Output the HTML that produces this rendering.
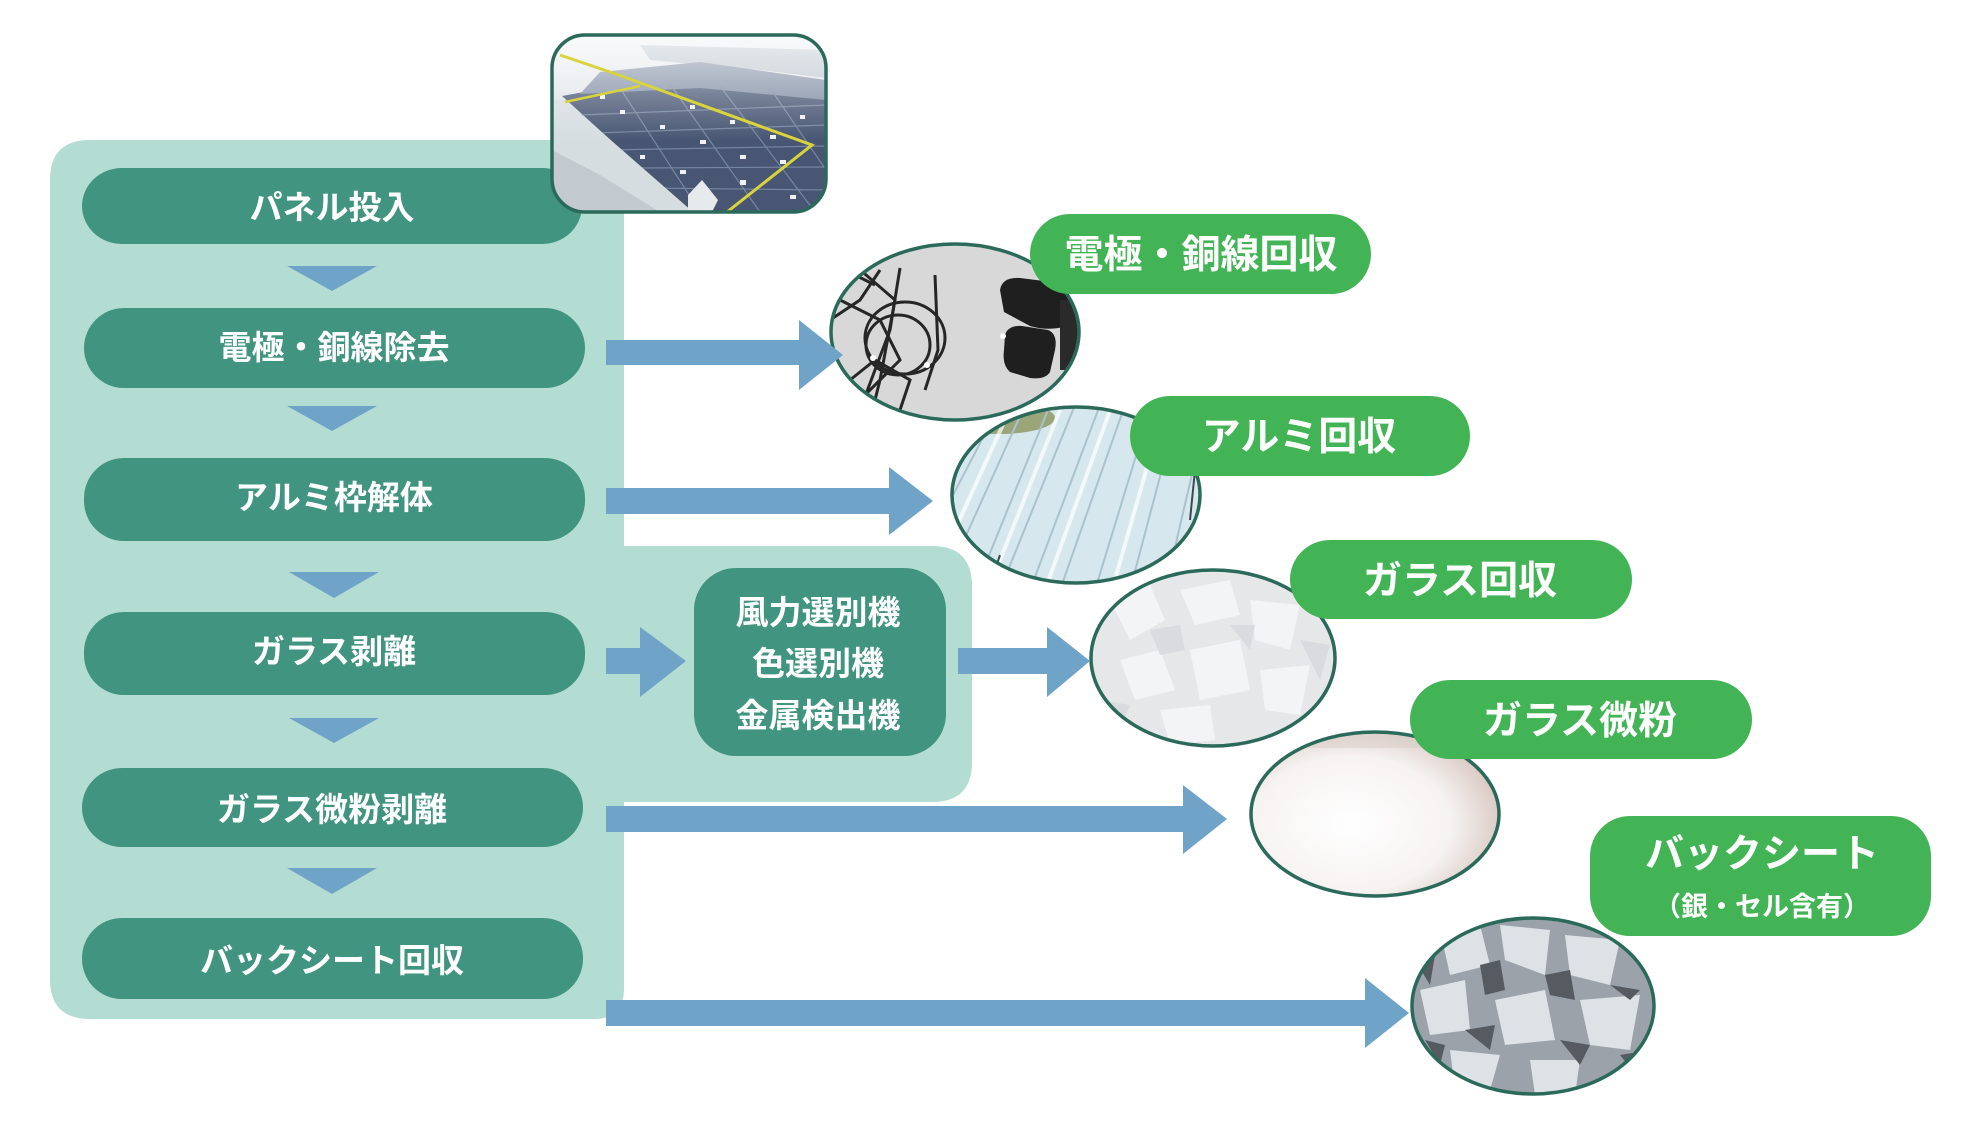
<!DOCTYPE html>
<html><head><meta charset="utf-8"><style>
html,body{margin:0;padding:0;background:#fff;}
svg{display:block;}
text{font-family:"Liberation Sans","Noto Sans CJK JP",sans-serif;font-weight:700;fill:#fff;}
</style></head><body>
<svg width="1974" height="1134" viewBox="0 0 1974 1134" xmlns="http://www.w3.org/2000/svg">
<defs>
<clipPath id="cSolar"><rect x="552" y="35" width="274" height="177" rx="33"/></clipPath>
<clipPath id="c1"><ellipse cx="955" cy="332" rx="124" ry="88"/></clipPath>
<clipPath id="c2"><ellipse cx="1076" cy="495" rx="124" ry="88"/></clipPath>
<clipPath id="c3"><ellipse cx="1213" cy="658" rx="122" ry="88"/></clipPath>
<clipPath id="c4"><ellipse cx="1375" cy="814" rx="124" ry="82"/></clipPath>
<clipPath id="c5"><ellipse cx="1533" cy="1006" rx="121" ry="88"/></clipPath>
<radialGradient id="gPowder" cx="0.4" cy="0.55" r="0.68">
<stop offset="0" stop-color="#ffffff"/><stop offset="0.55" stop-color="#f6f3f2"/><stop offset="0.82" stop-color="#dccdc7"/><stop offset="1" stop-color="#8d6251"/>
</radialGradient>
<linearGradient id="gSolarTop" x1="0" y1="0" x2="0" y2="1">
<stop offset="0" stop-color="#e9edf0"/><stop offset="1" stop-color="#cfd6dc"/>
</linearGradient>
<linearGradient id="gHaze" x1="0" y1="0" x2="0" y2="1">
<stop offset="0" stop-color="#ffffff" stop-opacity="0.7"/><stop offset="0.35" stop-color="#ffffff" stop-opacity="0.25"/><stop offset="0.6" stop-color="#ffffff" stop-opacity="0"/>
</linearGradient>
</defs>

<!-- light panel -->
<path d="M90,140 H624 V546 H932 Q972,546 972,586 V762 Q972,802 932,802 H624 V989 Q624,1019 594,1019 H90 Q50,1019 50,979 V180 Q50,140 90,140 Z" fill="#b3ddd3"/>

<!-- step pills -->
<rect x="82" y="168" width="500" height="76" rx="40" fill="#41947f"/>
<rect x="84" y="308" width="501" height="80" rx="40" fill="#41947f"/>
<rect x="84" y="458" width="501" height="83" rx="40" fill="#41947f"/>
<rect x="84" y="612" width="501" height="83" rx="40" fill="#41947f"/>
<rect x="82" y="768" width="501" height="79" rx="40" fill="#41947f"/>
<rect x="82" y="918" width="501" height="81" rx="40" fill="#41947f"/>

<text x="332" y="219" font-size="33" text-anchor="middle">パネル投入</text>
<text x="334" y="359" font-size="33" text-anchor="middle">電極・銅線除去</text>
<text x="334" y="509" font-size="33" text-anchor="middle">アルミ枠解体</text>
<text x="334" y="663" font-size="33" text-anchor="middle">ガラス剥離</text>
<text x="332" y="821" font-size="33" text-anchor="middle">ガラス微粉剥離</text>
<text x="332" y="972" font-size="33" text-anchor="middle">バックシート回収</text>

<!-- down triangles -->
<g fill="#6fa3c8">
<polygon points="287,266 377,266 332,291"/>
<polygon points="287,406 377,406 332,431"/>
<polygon points="289,572 379,572 334,598"/>
<polygon points="289,718 379,718 334,743"/>
<polygon points="287,868 377,868 332,894"/>
</g>

<!-- sorting box -->
<rect x="694" y="568" width="252" height="188" rx="42" fill="#41947f"/>
<text x="818" y="624" font-size="33" text-anchor="middle">風力選別機</text>
<text x="818" y="675" font-size="33" text-anchor="middle">色選別機</text>
<text x="818" y="727" font-size="33" text-anchor="middle">金属検出機</text>

<!-- solar photo -->
<g clip-path="url(#cSolar)">
<rect x="552" y="35" width="274" height="177" fill="url(#gSolarTop)"/>
<polygon points="640,45 826,50 826,78 760,70 650,60" fill="#b9c3cc"/>
<polygon points="562,96 650,80 826,88 826,212 690,212" fill="#485673"/>
<polygon points="600,72 700,62 826,80 826,100 700,88 580,94" fill="#7f8ca3"/>
<g stroke="#7586a0" stroke-width="1.2" fill="none">
<line x1="580" y1="115" x2="826" y2="105"/>
<line x1="595" y1="133" x2="826" y2="125"/>
<line x1="610" y1="150" x2="826" y2="146"/>
<line x1="628" y1="168" x2="826" y2="167"/>
<line x1="648" y1="188" x2="826" y2="190"/>
<line x1="620" y1="88" x2="700" y2="212"/>
<line x1="670" y1="84" x2="760" y2="212"/>
<line x1="720" y1="86" x2="815" y2="212"/>
<line x1="770" y1="88" x2="826" y2="170"/>
</g>
<g fill="#eef1f5">
<rect x="620" y="110" width="5" height="4"/><rect x="660" y="125" width="5" height="4"/><rect x="700" y="140" width="6" height="4"/>
<rect x="740" y="155" width="6" height="4"/><rect x="690" y="105" width="5" height="4"/><rect x="730" y="120" width="5" height="4"/>
<rect x="770" y="135" width="6" height="4"/><rect x="740" y="180" width="6" height="5"/><rect x="780" y="160" width="6" height="4"/>
<rect x="640" y="155" width="5" height="4"/><rect x="680" y="170" width="6" height="4"/><rect x="800" y="115" width="5" height="4"/>
<rect x="600" y="95" width="5" height="4"/><rect x="790" y="195" width="6" height="4"/>
</g>
<polygon points="552,100 565,100 693,212 552,212" fill="#d6dde1"/>
<polygon points="552,150 600,175 660,212 552,212" fill="#c2cacf"/>
<rect x="552" y="35" width="274" height="177" fill="url(#gHaze)"/>
<polyline points="560,55 613,73 812,145 727,212" fill="none" stroke="#d8d43c" stroke-width="3"/>
<polyline points="565,102 640,86" fill="none" stroke="#d8d43c" stroke-width="2.5"/>
<polygon points="688,195 702,180 718,200 712,212 688,212" fill="#e6eaec"/>
</g>
<rect x="552" y="35" width="274" height="177" rx="33" fill="none" stroke="#2b6a5a" stroke-width="3.5"/>

<!-- ellipse 1: cables -->
<g clip-path="url(#c1)">
<rect x="820" y="230" width="270" height="200" fill="#d8d8d8"/>
<g fill="none" stroke="#262626" stroke-width="3">
<ellipse cx="905" cy="338" rx="40" ry="36"/>
<ellipse cx="898" cy="345" rx="32" ry="30"/>
<path d="M858,268 L895,300 L880,380 L870,420"/>
<path d="M900,268 L890,330 L860,410"/>
<path d="M935,275 L938,350 L925,390"/>
<path d="M840,300 L880,320 L900,360 L860,400"/>
<path d="M845,270 L875,285"/>
<path d="M830,320 L860,300 L880,270"/>
<path d="M850,380 L875,360 L910,380 L900,410"/>
</g>
<g fill="#1f1f1f">
<path d="M1000,290 Q1002,277 1020,278 L1060,283 Q1076,288 1074,305 L1070,325 Q1050,332 1030,326 L1004,312 Z"/>
<path d="M1005,335 Q1008,325 1022,326 L1048,330 Q1058,334 1055,350 L1050,372 Q1045,380 1030,378 L1010,372 Q1002,365 1004,350 Z"/>
<rect x="1060" y="300" width="22" height="70" fill="#2a2a2a"/>
</g>
<g fill="#ffffff"><circle cx="873" cy="358" r="3"/><circle cx="927" cy="365" r="3"/><circle cx="1003" cy="336" r="3"/></g>
</g>
<ellipse cx="955" cy="332" rx="124" ry="88" fill="none" stroke="#2b6a5a" stroke-width="3.5"/>

<!-- ellipse 2: aluminum -->
<g clip-path="url(#c2)">
<rect x="945" y="400" width="265" height="190" fill="#d6e8ee"/>
<ellipse cx="1000" cy="418" rx="55" ry="16" fill="#9aa67a"/>
<g stroke="#a9c2cc" stroke-width="2">
<line x1="1000" y1="405" x2="940" y2="520"/>
<line x1="1025" y1="405" x2="955" y2="560"/>
<line x1="1050" y1="405" x2="975" y2="590"/>
<line x1="1075" y1="405" x2="1000" y2="590"/>
<line x1="1100" y1="405" x2="1030" y2="590"/>
<line x1="1125" y1="405" x2="1060" y2="590"/>
<line x1="1150" y1="410" x2="1095" y2="590"/>
<line x1="1175" y1="420" x2="1130" y2="590"/>
<line x1="1200" y1="440" x2="1165" y2="590"/>
</g>
<g stroke="#ffffff" stroke-width="4" stroke-opacity="0.7">
<line x1="1012" y1="405" x2="948" y2="545"/>
<line x1="1062" y1="405" x2="988" y2="590"/>
<line x1="1112" y1="405" x2="1045" y2="590"/>
<line x1="1162" y1="415" x2="1112" y2="590"/>
</g>
<path d="M950,545 L1000,565 L1060,588 L950,590 Z" fill="#9eacb2"/>
<g stroke="#3c4a50" stroke-width="2"><line x1="960" y1="545" x2="975" y2="570"/><line x1="1000" y1="555" x2="990" y2="585"/><line x1="1196" y1="460" x2="1190" y2="520"/></g>
</g>
<ellipse cx="1076" cy="495" rx="124" ry="88" fill="none" stroke="#2b6a5a" stroke-width="3.5"/>

<!-- ellipse 3: glass -->
<g clip-path="url(#c3)">
<rect x="1085" y="565" width="260" height="185" fill="#e6e7e9"/>
<g fill="#f3f4f5">
<polygon points="1110,600 1150,585 1165,620 1130,640"/>
<polygon points="1180,590 1230,580 1240,615 1195,625"/>
<polygon points="1250,600 1300,605 1290,650 1255,640"/>
<polygon points="1120,660 1160,650 1175,690 1135,700"/>
<polygon points="1190,650 1240,640 1250,690 1200,700"/>
<polygon points="1260,670 1310,665 1300,715 1265,710"/>
<polygon points="1160,710 1210,705 1215,740 1170,745"/>
</g>
<g fill="#d9dbde">
<polygon points="1150,630 1180,625 1185,650 1160,655"/>
<polygon points="1230,625 1255,625 1250,650"/>
<polygon points="1300,640 1330,645 1320,680"/>
<polygon points="1100,700 1130,705 1120,730"/>
</g>
</g>
<ellipse cx="1213" cy="658" rx="122" ry="88" fill="none" stroke="#2b6a5a" stroke-width="3.5"/>

<!-- ellipse 4: powder -->
<g clip-path="url(#c4)">
<rect x="1245" y="725" width="265" height="180" fill="url(#gPowder)"/>
<rect x="1245" y="730" width="265" height="18" fill="#d8ccc8" opacity="0.5"/>
</g>
<ellipse cx="1375" cy="814" rx="124" ry="82" fill="none" stroke="#2b6a5a" stroke-width="3.5"/>

<!-- ellipse 5: backsheet -->
<g clip-path="url(#c5)">
<rect x="1405" y="910" width="260" height="190" fill="#9ba2a9"/>
<g fill="#dde2e7">
<polygon points="1440,930 1480,925 1490,965 1450,975"/>
<polygon points="1500,925 1550,930 1545,975 1505,960"/>
<polygon points="1565,935 1620,940 1610,985 1570,975"/>
<polygon points="1420,990 1465,980 1470,1030 1430,1035"/>
<polygon points="1495,1000 1545,990 1555,1040 1505,1045"/>
<polygon points="1580,1000 1640,995 1630,1050 1590,1045"/>
<polygon points="1450,1050 1500,1055 1490,1090 1455,1090"/>
<polygon points="1530,1060 1580,1060 1575,1095 1535,1095"/>
</g>
<g fill="#555b61">
<polygon points="1480,965 1500,960 1505,990 1485,995"/>
<polygon points="1545,975 1570,970 1575,1000 1550,995"/>
<polygon points="1610,985 1640,990 1630,1000"/>
<polygon points="1465,1030 1495,1025 1490,1050"/>
<polygon points="1560,1040 1590,1045 1580,1065"/>
<polygon points="1425,1040 1445,1045 1440,1065"/>
<polygon points="1620,1055 1650,1050 1640,1080"/>
<polygon points="1415,960 1435,955 1430,985"/>
</g>
</g>
<ellipse cx="1533" cy="1006" rx="121" ry="88" fill="none" stroke="#2b6a5a" stroke-width="3.5"/>

<!-- arrows -->
<g fill="#6fa3c8">
<polygon points="606,340 799,340 799,320 843,355 799,390 799,365 606,365"/>
<polygon points="606,488 889,488 889,467 933,501 889,535 889,514 606,514"/>
<polygon points="606,648 640,648 640,627 686,661 640,697 640,674 606,674"/>
<polygon points="958,648 1047,648 1047,627 1090,661 1047,697 1047,674 958,674"/>
<polygon points="606,806 1183,806 1183,785 1227,819 1183,854 1183,832 606,832"/>
<polygon points="606,1000 1365,1000 1365,978 1409,1013 1365,1048 1365,1026 606,1026"/>
</g>

<!-- badges -->
<g fill="#43b455">
<rect x="1030" y="214" width="341" height="80" rx="40"/>
<rect x="1130" y="396" width="340" height="80" rx="40"/>
<rect x="1290" y="540" width="342" height="79" rx="40"/>
<rect x="1410" y="680" width="342" height="79" rx="40"/>
<rect x="1590" y="816" width="341" height="120" rx="40"/>
</g>
<text x="1201" y="268" font-size="39" text-anchor="middle">電極・銅線回収</text>
<text x="1299" y="450" font-size="39" text-anchor="middle">アルミ回収</text>
<text x="1460" y="594" font-size="39" text-anchor="middle">ガラス回収</text>
<text x="1580" y="734" font-size="39" text-anchor="middle">ガラス微粉</text>
<text x="1762" y="867" font-size="39" text-anchor="middle">バックシート</text>
<text x="1762" y="916" font-size="27" text-anchor="middle">（銀・セル含有）</text>
</svg>
</body></html>
